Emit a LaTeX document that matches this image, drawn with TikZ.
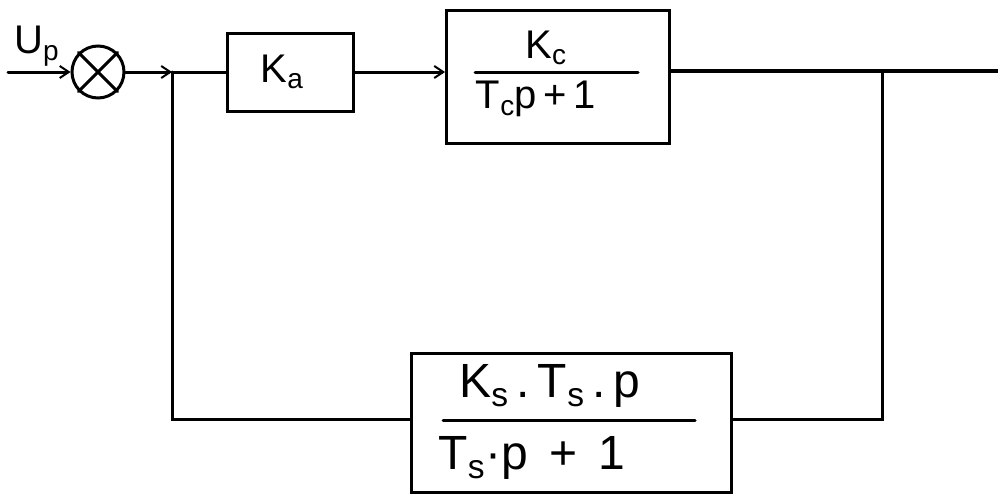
\documentclass[tikz,border=0pt]{standalone}
\usepackage{fontspec}
\setmainfont{Liberation Sans}
\usetikzlibrary{arrows.meta,calc}
\begin{document}
\begin{tikzpicture}[x=1pt,y=-1pt,
  wire/.style={line width=3pt,line cap=round},
  arr/.style={wire,-{Straight Barb[length=9pt,width=12pt,line width=2pt]}},
  block/.style={draw,line width=3pt,inner sep=0pt,anchor=north west},
  txt/.style={font=\fontsize{40}{46}\selectfont,inner sep=0pt},
  bigtxt/.style={font=\fontsize{48}{54}\selectfont,inner sep=0pt}]
\useasboundingbox (0,0) rectangle (998,495);
\fill[white] (0,0) rectangle (998,495);

% summing junction with cross
\node[draw,circle,line width=3pt,minimum size=52pt,inner sep=0pt] (sum) at (98,72) {};
\draw[wire] (sum.45) -- (sum.225) (sum.135) -- (sum.315);
\coordinate (in) at (8,72);
\node[txt,anchor=base west] (lbl) at (14,54) {U\textsubscript{p}};

% forward blocks
\node[block,minimum width=126pt,minimum height=78pt] (ka) at (226,32) {};
\node[txt] (katext) at (282,72) {K\textsubscript{a}};
\node[block,minimum width=223pt,minimum height=133pt] (kc) at (445,9) {};
\draw[wire] (475,72) -- (638,72);
\node[txt] (kcnum) at (546,48) {K\textsubscript{c}};
\node[txt] (kcden) at (536,99) {T\textsubscript{c}p\,+\,1};

% feedback block
\node[block,minimum width=320pt,minimum height=139pt] (ks) at (410,352) {};
\draw[wire] (443,420) -- (695,420);
\node[bigtxt] (ksnum) at (550,386) {K\textsubscript{s}\,.\,T\textsubscript{s}\,.\,p};
\node[bigtxt] (ksden) at (532,458) {T\textsubscript{s}·p\, +\, 1};

% junctions
\coordinate (split) at (172,72);
\coordinate (out) at (998,71);
\coordinate (tap) at (882,71);

% signal path
\draw[arr] (in) -- (sum.west);
\draw[arr] (sum.east) -- (split);
\draw[wire] (split) -- (ka.west |- split);
\draw[arr] (ka.east |- split) -- (kc.west |- split);
\draw[wire] (kc.east |- tap) -- (out);

% feedback path
\draw[wire] (split) |- (ks.west |- 0,419);
\draw[wire] (ks.east |- 0,419) -| (tap);
\end{tikzpicture}
\end{document}
